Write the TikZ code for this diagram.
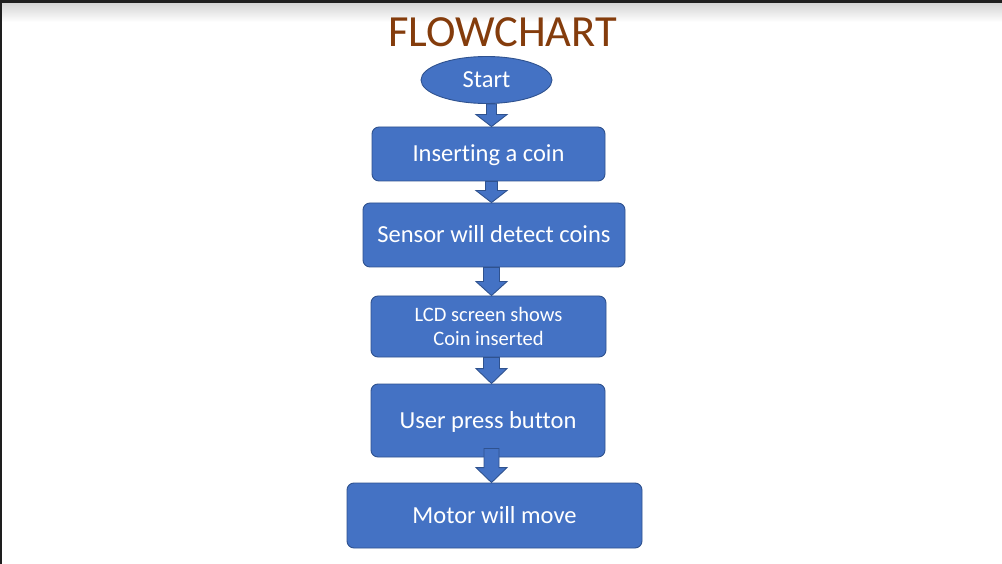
\documentclass[tikz,border=0pt]{standalone}
\usepackage{fontspec}
\setmainfont{Carlito}[Ligatures=NoCommon]
\usetikzlibrary{shapes.geometric,calc}
\definecolor{boxfill}{HTML}{4472C4}
\definecolor{boxline}{HTML}{2F528F}
\definecolor{titlecol}{HTML}{843C0C}
\definecolor{frame}{HTML}{1E1E1E}
\definecolor{topgray}{HTML}{D6D6D6}
\tikzset{
  procbox/.style={rectangle, rounded corners=7pt, draw=boxline, line width=0.9pt, fill=boxfill,
    text=white, inner sep=0pt, font=\fontsize{24.5}{29}\selectfont, align=center},
  oneline/.style={text height=15.8pt, text depth=0pt},
  startshape/.style={ellipse, draw=boxline, line width=0.9pt, fill=boxfill, text=white,
    inner sep=0pt, font=\fontsize{24.5}{29}\selectfont, text height=15.8pt, text depth=0pt},
  barrow/.style={draw=boxline, line width=0.9pt, fill=boxfill},
  titletext/.style={text=titlecol, inner sep=0pt, font=\fontsize{44.5}{50}\selectfont}
}
% #1 from node, #2 to node, #3 shaft half width, #4 head length, #5 start offset (up)
\newcommand{\blkarrow}[5]{%
  \path[barrow] let \p1=(#1.south -| ax), \p2=(#2.north -| ax) in
    (\x1-#3pt,\y1+#5pt) -- (\x1+#3pt,\y1+#5pt) -- (\x1+#3pt,\y2+#4pt)
    -- (\x1+15.5pt,\y2+#4pt) -- (\x2,\y2) -- (\x1-15.5pt,\y2+#4pt)
    -- (\x1-#3pt,\y2+#4pt) -- cycle;}
\begin{document}
\begin{tikzpicture}[x=1pt,y=-1pt]
  \useasboundingbox (0,0) rectangle (1002,564);
  % screenshot frame
  \fill[frame] (0,0) rectangle (1002,564);
  \fill[white] (2,4) rectangle (1002,564);
  \shade[top color=topgray, bottom color=white] (2,4) rectangle (1002,22);
  \coordinate (ax) at (491.5,0);
  % title
  \node[titletext] (title) at (502.5,32.5) {FLOWCHART};
  % nodes
  \node[startshape, minimum width=131pt, minimum height=47pt] (start) at (486.5,80) {Start};
  \node[procbox, oneline, minimum width=233pt, minimum height=54pt] (b1) at (488.5,154) {Inserting a coin};
  \node[procbox, oneline, minimum width=262pt, minimum height=64pt] (b2) at (494,235) {Sensor will detect coins};
  \node[procbox, minimum width=235pt, minimum height=61pt, font=\fontsize{20.5}{24}\selectfont] (b3) at (488.5,326.5) {\raisebox{-2pt}{LCD screen shows}\\\raisebox{-2pt}{Coin inserted}};
  \node[procbox, oneline, minimum width=234pt, minimum height=73pt] (b4) at (488,420.5) {User press button};
  \node[procbox, oneline, minimum width=295pt, minimum height=65pt] (b5) at (494.5,515.5) {Motor will move};
  % block arrows
  \blkarrow{start}{b1}{5}{12}{0}
  \blkarrow{b1}{b2}{6}{12}{0}
  \blkarrow{b2}{b3}{8}{14}{0}
  \blkarrow{b3}{b4}{8}{15}{0}
  \blkarrow{b4}{b5}{7.5}{15}{9}
\end{tikzpicture}
\end{document}
